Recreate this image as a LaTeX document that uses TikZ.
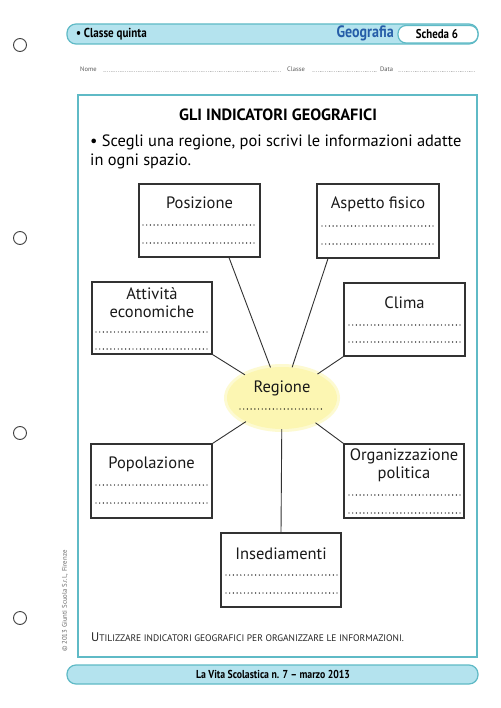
\documentclass[tikz,border=0pt]{standalone}
\usepackage{fontspec}
\setmainfont{PT Sans}
\newfontfamily\condfont[FakeStretch=0.85]{PT Sans}
\usetikzlibrary{shapes.geometric}
\definecolor{teal1}{RGB}{95,186,198}
\definecolor{barfill}{RGB}{180,227,238}
\definecolor{geoblue}{RGB}{38,94,168}
\definecolor{regfill}{RGB}{252,246,178}
\definecolor{boxline}{RGB}{50,50,50}
\begin{document}
\begin{tikzpicture}[x=1pt,y=-1pt,
  infobox/.style={draw=boxline, line width=1.1pt, fill=white, inner sep=0pt},
  lbl/.style={font=\fontsize{16.5}{18}\selectfont, text=black!90, inner sep=0pt, align=center},
  dotline/.style={line width=1.4pt, dash pattern=on 0pt off 3.7pt, line cap=round, black},
  smalldots/.style={line width=0.6pt, dash pattern=on 0pt off 1.8pt, line cap=round, black!55},
  conn/.style={draw=boxline, line width=0.9pt},
  hole/.style={draw=black!75, line width=0.9pt},
  bar/.style={draw=teal1, fill=barfill, line width=1.2pt, rounded corners=9pt}]
\useasboundingbox (0,0) rectangle (500,708);
\fill[white] (0,0) rectangle (500,708);
% binder holes
\foreach \yy in {45,238,433,618} \draw[hole] (20,\yy) circle (6.5);
% header
\draw[bar] (67,24) rectangle (478,44);
\node[anchor=west, inner sep=0pt, font=\condfont\bfseries\fontsize{13}{15}\selectfont] (cls) at (76,34) {• Classe quinta};
\node[anchor=east, inner sep=0pt, font=\condfont\bfseries\fontsize{16.5}{18}\selectfont, text=geoblue] (geo) at (394,33.5) {Geografia};
\draw[teal1, fill=white, line width=1.2pt, rounded corners=8pt] (398,25.5) rectangle (478,43);
\node[inner sep=0pt, font=\condfont\bfseries\fontsize{12.8}{14}\selectfont] (sch) at (437,34) {Scheda 6};
% name line
\node[anchor=base west, inner sep=0pt, font=\fontsize{6.5}{8}\selectfont, text=black!65] (nome) at (80,72) {Nome};
\draw[smalldots] (104,71.5) -- (282,71.5);
\node[anchor=base west, inner sep=0pt, font=\fontsize{6.5}{8}\selectfont, text=black!65] (classe) at (287,72) {Classe};
\draw[smalldots] (313,71.5) -- (376,71.5);
\node[anchor=base west, inner sep=0pt, font=\fontsize{6.5}{8}\selectfont, text=black!65] (data) at (380,72) {Data};
\draw[smalldots] (399,71.5) -- (475,71.5);
% main frame
\draw[teal1, line width=1.3pt] (78,95) rectangle (477,657);
\node[inner sep=0pt, font=\bfseries\fontsize{16.3}{18}\selectfont] (title) at (278,115) {GLI INDICATORI GEOGRAFICI};
\node[anchor=north west, inner sep=0pt, align=left, font=\fontsize{16.4}{18.5}\selectfont] (instr) at (90,135) {• Scegli una regione, poi scrivi le informazioni adatte\\in ogni spazio.};
% central ellipse
\node[ellipse, fill=regfill!60, minimum width=116pt, minimum height=68pt, inner sep=0pt] (glow) at (282,398) {};
\node[ellipse, fill=regfill, minimum width=110pt, minimum height=62pt, inner sep=0pt] (reg) at (282,398) {};
% boxes
\node[infobox, minimum width=121pt, minimum height=73pt] (pos) at (199.5,220.5) {};
\node[infobox, minimum width=122pt, minimum height=74pt] (asp) at (378,221) {};
\node[infobox, minimum width=120pt, minimum height=72pt] (att) at (152,318) {};
\node[infobox, minimum width=121pt, minimum height=73pt] (cli) at (404.5,319.5) {};
\node[infobox, minimum width=121pt, minimum height=74pt] (pop) at (151.5,481) {};
\node[infobox, minimum width=120pt, minimum height=74pt] (org) at (404,481) {};
\node[infobox, minimum width=120pt, minimum height=74pt] (ins) at (281,570) {};
% connectors
\draw[conn] ([xshift=29.5pt]pos.south) -- (reg);
\draw[conn] ([xshift=-50pt]asp.south) -- (reg);
\draw[conn] (att.south east) -- (reg);
\draw[conn] (cli.south west) -- (reg);
\draw[conn] (pop.north east) -- (reg);
\draw[conn] (org.north west) -- (reg);
\draw[conn] (ins.north) -- (reg);
% labels
\node[lbl] (tpos) at (199.5,203) {Posizione};
\node[lbl] (tasp) at (378,204) {Aspetto fisico};
\node[lbl] (tatt) at (152,303) {Attività\\economiche};
\node[lbl] (tcli) at (404.5,303) {Clima};
\node[lbl] (tpop) at (151.5,464) {Popolazione};
\node[lbl] (torg) at (404,465) {Organizzazione\\politica};
\node[lbl] (tins) at (281,554) {Insediamenti};
\node[lbl] (treg) at (282,388) {Regione};
% dotted write-in lines
\draw[dotline] (143,225) -- (256,225);
\draw[dotline] (143,243) -- (256,243);
\draw[dotline] (322,226) -- (435,226);
\draw[dotline] (322,244) -- (435,244);
\draw[dotline] (96,332) -- (209,332);
\draw[dotline] (96,349) -- (209,349);
\draw[dotline] (349,325) -- (461,325);
\draw[dotline] (349,342) -- (461,342);
\draw[dotline] (96,485) -- (208,485);
\draw[dotline] (96,503) -- (208,503);
\draw[dotline] (349,495) -- (461,495);
\draw[dotline] (349,513) -- (461,513);
\draw[dotline] (226,575) -- (338,575);
\draw[dotline] (226,593) -- (338,593);
\draw[dotline] (240,409) -- (325,409);
% bottom note
\node[anchor=base west, inner sep=0pt, font=\fontsize{9.5}{11}\selectfont, text=black!85] (note) at (91,641) {{\fontsize{12.5}{14}\selectfont U}TILIZZARE INDICATORI GEOGRAFICI PER ORGANIZZARE LE INFORMAZIONI.};
% copyright
\node[rotate=90, anchor=west, inner sep=0pt, font=\fontsize{6.8}{8}\selectfont, text=black!60] (copy) at (65,652) {© 2013 Giunti Scuola S.r.l., Firenze};
% footer
\draw[bar] (67,665) rectangle (478,684);
\node[inner sep=0pt, font=\condfont\bfseries\fontsize{11.5}{13}\selectfont] (foot) at (273,674.5) {La Vita Scolastica n. 7 – marzo 2013};
\end{tikzpicture}
\end{document}
